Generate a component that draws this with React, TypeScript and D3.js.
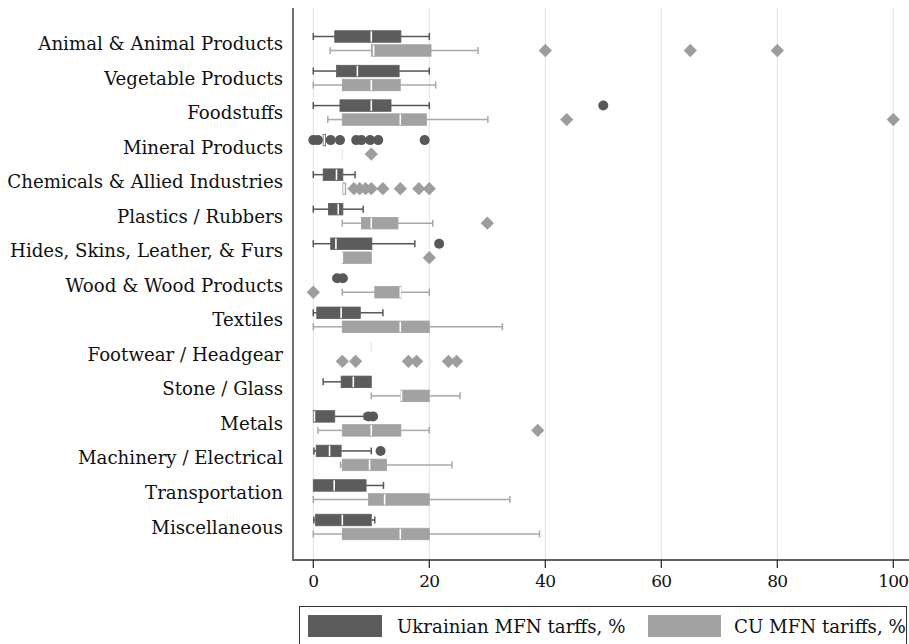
import React from "react";
import * as d3 from "d3";

// HS sections, top to bottom
const categories = [
  "Animal & Animal Products",
  "Vegetable Products",
  "Foodstuffs",
  "Mineral Products",
  "Chemicals & Allied Industries",
  "Plastics / Rubbers",
  "Hides, Skins, Leather, & Furs",
  "Wood & Wood Products",
  "Textiles",
  "Footwear / Headgear",
  "Stone / Glass",
  "Metals",
  "Machinery / Electrical",
  "Transportation",
  "Miscellaneous",
];

// [lower whisker, q1, median, q3, upper whisker] per section
const ukrStats: number[][] = [
  [0, 3.7, 10, 15.1, 20],
  [0, 4, 7.6, 14.8, 20],
  [0, 4.6, 10, 13.4, 20],
  [1.7, 1.7, 1.9, 2.1, 2.1],
  [0, 1.7, 4, 5.1, 7.2],
  [0, 2.6, 4.3, 5.1, 8.6],
  [0, 3, 3.9, 10.1, 17.5],
  [4.6, 4.6, 4.6, 4.6, 4.6],
  [0, 0.6, 4.8, 8.1, 12],
  [10, 10, 10, 10, 10],
  [1.7, 4.8, 6.9, 10, 10],
  [0, 0, 0.2, 3.7, 8.8],
  [0.1, 0.5, 2.8, 4.8, 10],
  [0, 0, 3.6, 9.1, 12.1],
  [0.1, 0.4, 5, 10, 10.6],
];

const ukrOutliers: number[][] = [
  [],
  [],
  [50],
  [0, 0.8, 3, 4.6, 7.4, 8.3, 9.8, 11.2, 19.2],
  [],
  [],
  [21.7],
  [4.1, 5.1],
  [],
  [],
  [],
  [9.5, 10.3],
  [11.6],
  [],
  [],
];

const cuStats: number[][] = [
  [2.9, 10, 10.4, 20.3, 28.4],
  [0, 5, 10, 15, 21.1],
  [2.5, 5, 15, 19.5, 30.1],
  [5, 5, 5, 5, 5],
  [5.1, 5.1, 5.3, 5.6, 5.6],
  [5, 8.3, 10, 14.6, 20.6],
  [5, 5, 5, 10, 10],
  [5, 10.6, 15, 15.1, 20],
  [0, 5, 15, 20, 32.6],
  [20, 20, 20, 20, 20],
  [10, 15.1, 15.2, 20, 25.3],
  [0.8, 5, 10, 15.1, 20],
  [4.7, 5, 9.7, 12.6, 23.9],
  [0, 9.5, 12.3, 20, 33.9],
  [0, 5, 15, 20, 39],
];

const cuOutliers: number[][] = [
  [40, 65, 80],
  [],
  [43.7, 100],
  [10],
  [7, 8, 9, 10, 12, 15, 18.2, 20],
  [30],
  [20],
  [0],
  [],
  [5, 7.3, 16.4, 17.8, 23.3, 24.7],
  [],
  [38.7],
  [],
  [],
  [],
];

const xTicks = [0, 20, 40, 60, 80, 100];

const seriesNames = ["Ukrainian MFN tarffs, %", "CU MFN tariffs, %"];

const W = 909;
const H = 644;
const FONT = "'DejaVu Serif', 'Liberation Serif', serif";
const FS = 18.2;
const DARK = "#5c5c5c";
const LIGHT = "#a2a2a2";

const plotTop = 8;
const plotBottom = 560;
const axisX = 293;

const x = d3.scaleLinear().domain([0, 100]).range([313.3, 893.3]);
const y = d3.scalePoint<string>().domain(categories).range([43.5, 527]);

const BOX_H = 11.5;
const OFFSET = 7;
const CAP = 7;

function BoxRow({
  stats,
  cy,
  color,
  whiskerColor,
}: {
  stats: number[];
  cy: number;
  color: string;
  whiskerColor: string;
}) {
  const [lo, q1, med, q3, hi] = stats;
  const flat = q3 <= q1;
  return (
    <g>
      {lo < q1 && (
        <line x1={x(lo)} x2={x(q1)} y1={cy} y2={cy} stroke={whiskerColor} strokeWidth={1.5} />
      )}
      {hi > q3 && (
        <line x1={x(q3)} x2={x(hi)} y1={cy} y2={cy} stroke={whiskerColor} strokeWidth={1.5} />
      )}
      {lo < q1 && (
        <line x1={x(lo)} x2={x(lo)} y1={cy - CAP / 2} y2={cy + CAP / 2} stroke={whiskerColor} strokeWidth={1.5} />
      )}
      {hi > q3 && (
        <line x1={x(hi)} x2={x(hi)} y1={cy - CAP / 2} y2={cy + CAP / 2} stroke={whiskerColor} strokeWidth={1.5} />
      )}
      {!flat && (
        <rect
          x={x(q1)}
          y={cy - BOX_H / 2}
          width={x(q3) - x(q1)}
          height={BOX_H}
          fill={color}
          stroke={color}
          strokeWidth={0.8}
        />
      )}
      <line
        x1={x(med)}
        x2={x(med)}
        y1={cy - BOX_H / 2 + 0.5}
        y2={cy + BOX_H / 2 - 0.5}
        stroke={flat ? "#ececec" : "#ffffff"}
        strokeWidth={1.6}
      />
    </g>
  );
}

export default function App() {
  const diamond = d3.symbol().type(d3.symbolDiamond2).size(112)();
  return (
    <svg
      width={W}
      height={H}
      style={{ position: "absolute", left: 0, top: 0, background: "#ffffff" }}
      fontFamily={FONT}
    >
      <rect x={0} y={0} width={W} height={H} fill="#ffffff" />

      {/* vertical grid */}
      {xTicks.map((t) => (
        <line key={`g${t}`} x1={x(t)} x2={x(t)} y1={plotTop} y2={plotBottom} stroke="#e2e2e2" strokeWidth={1} />
      ))}

      {/* boxes */}
      {categories.map((c, i) => {
        const cy = y(c) as number;
        return (
          <g key={c}>
            <BoxRow stats={ukrStats[i]} cy={cy - OFFSET} color={DARK} whiskerColor="#555555" />
            <BoxRow stats={cuStats[i]} cy={cy + OFFSET} color={LIGHT} whiskerColor="#a8a8a8" />
          </g>
        );
      })}

      {/* outliers */}
      {categories.map((c, i) => {
        const cy = y(c) as number;
        return (
          <g key={`o${c}`}>
            {ukrOutliers[i].map((v, j) => (
              <circle key={`u${j}`} cx={x(v)} cy={cy - OFFSET} r={5} fill="#585858" />
            ))}
            {cuOutliers[i].map((v, j) => (
              <path key={`c${j}`} d={diamond as string} transform={`translate(${x(v)},${cy + OFFSET})`} fill="#9d9d9d" />
            ))}
          </g>
        );
      })}

      {/* axes */}
      <line x1={axisX} x2={axisX} y1={plotTop} y2={plotBottom + 1} stroke="#707070" strokeWidth={2} />
      <line x1={axisX} x2={W} y1={plotBottom} y2={plotBottom} stroke="#606060" strokeWidth={1.8} />
      {xTicks.map((t) => (
        <g key={`t${t}`}>
          <line x1={x(t)} x2={x(t)} y1={plotBottom} y2={plotBottom + 8} stroke="#222" strokeWidth={1.2} />
          <text x={x(t)} y={587} textAnchor="middle" fontSize={17} letterSpacing={-0.8} fill="#111">
            {t}
          </text>
        </g>
      ))}

      {/* category labels */}
      {categories.map((c) => (
        <text key={`l${c}`} x={283} y={(y(c) as number) + 6.5} textAnchor="end" fontSize={FS} fill="#111">
          {c}
        </text>
      ))}

      {/* legend */}
      <rect x={299.5} y={606.5} width={607} height={60} fill="#ffffff" stroke="#333" strokeWidth={1} />
      <rect x={308} y={615} width={74} height={22} fill={DARK} />
      <text x={397} y={633} fontSize={FS} fill="#111">
        {seriesNames[0]}
      </text>
      <rect x={648} y={615} width={73} height={22} fill={LIGHT} />
      <text x={734} y={633} fontSize={FS} fill="#111">
        {seriesNames[1]}
      </text>
    </svg>
  );
}
